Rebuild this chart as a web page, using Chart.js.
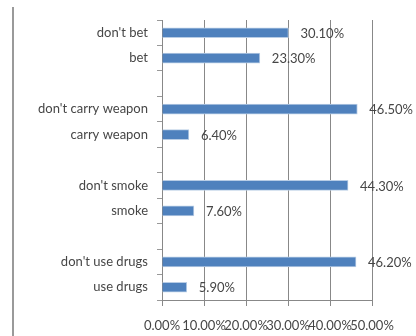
<!DOCTYPE html>
<html>
<head>
<meta charset="utf-8">
<script src="https://cdn.jsdelivr.net/npm/chart.js@4/dist/chart.umd.min.js"></script>
<style>
  html, body { margin: 0; padding: 0; background: #fff; }
  #wrap { position: relative; width: 416px; height: 336px; }
  #edge { position: absolute; left: 12px; top: 7px; width: 2px; bottom: 0; background: #9a9a9a; }
</style>
</head>
<body>
<div id="wrap">
  <div id="edge"></div>
  <canvas id="myChart" width="416" height="336"></canvas>
</div>
<script>
// categories top to bottom, empty strings are the spacer rows between groups
let labels = ["don't bet", 'bet', '', "don't carry weapon", 'carry weapon', '', "don't smoke", 'smoke', '', "don't use drugs", 'use drugs']
let percents = [30.1, 23.3, null, 46.5, 6.4, null, 44.3, 7.6, null, 46.2, 5.9]
let xTicks = [0, 10, 20, 30, 40, 50]

const textColor = '#464646'
const fontFamily = 'Lato, "Open Sans", sans-serif'

// write the value just past the end of each bar
const valueLabels = {
  id: 'valueLabels',
  afterDatasetsDraw(chart) {
    const ctx = chart.ctx
    const meta = chart.getDatasetMeta(0)
    ctx.save()
    ctx.font = '13px ' + fontFamily
    ctx.fillStyle = textColor
    ctx.textAlign = 'left'
    ctx.textBaseline = 'middle'
    meta.data.forEach((bar, i) => {
      const v = percents[i]
      if (v == null) return
      ctx.fillText(v.toFixed(2) + '%', bar.x + 12, bar.y + 1)
    })
    ctx.restore()
  }
}

const data = {
  labels: labels,
  datasets: [
    {
      data: percents,
      backgroundColor: '#4f81bd',
      borderColor: '#b9cde5',
      borderWidth: 1,
      barThickness: 10
    }
  ]
}

const config = {
  type: 'bar',
  data: data,
  plugins: [valueLabels],
  options: {
    indexAxis: 'y',
    responsive: false,
    animation: false,
    layout: { padding: { top: 20, right: 44, left: 0, bottom: 0 } },
    plugins: {
      legend: { display: false },
      tooltip: { enabled: false }
    },
    scales: {
      x: {
        min: 0,
        max: 50,
        afterBuildTicks: (scale) => { scale.ticks = xTicks.map((v) => ({ value: v })) },
        afterFit: (scale) => { scale.height = 36 },
        border: { color: '#888', width: 1 },
        grid: { color: '#888', tickLength: 6, drawTicks: true },
        ticks: {
          color: textColor,
          font: { family: fontFamily, size: 13 },
          maxRotation: 0,
          autoSkip: false,
          padding: 12,
          callback: (v) => v.toFixed(2) + '%'
        }
      },
      y: {
        afterFit: (scale) => { scale.width = 162 },
        border: { color: '#888', width: 1 },
        grid: { offset: true, drawOnChartArea: false, drawTicks: true, tickLength: 5, color: '#999' },
        ticks: {
          color: textColor,
          font: { family: fontFamily, size: 13 },
          padding: 9,
          autoSkip: false
        }
      }
    }
  }
}

const myChart = new Chart(document.getElementById('myChart'), config)
</script>
</body>
</html>
